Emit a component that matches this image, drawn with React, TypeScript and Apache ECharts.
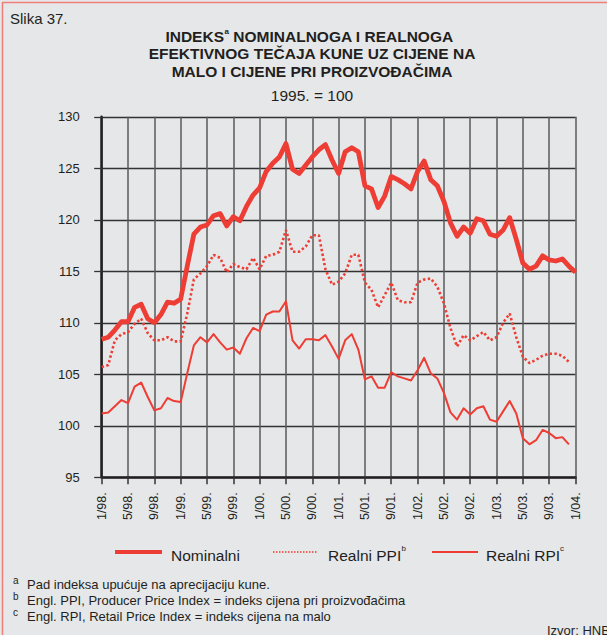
import React, { useEffect, useRef } from "react";
import * as echarts from "echarts";

const FONT = "'Liberation Sans', Arial, Helvetica, sans-serif";
const RED = "#ee3d34";

// Monthly categories 1/98. ... 1/04.
const years = ["98", "99", "00", "01", "02", "03"];
const categories: string[] = [];
years.forEach((y) => {
  for (let m = 1; m <= 12; m++) categories.push(`${m}/${y}.`);
});
categories.push("1/04.");

const nominalni = [
  108.4, 108.6, 109.3, 110.1, 110.1, 111.5, 111.8, 110.4, 110.0, 110.8, 112.0, 111.9,
  112.3, 115.5, 118.6, 119.3, 119.5, 120.4, 120.6, 119.4, 120.3, 119.9, 121.3, 122.4,
  123.1, 124.7, 125.5, 126.1, 127.4, 124.9, 124.5, 125.3, 126.1, 126.8, 127.3, 125.8,
  124.5, 126.6, 127.0, 126.6, 123.3, 123.0, 121.2, 122.3, 124.2, 123.9, 123.5, 123.0,
  124.7, 125.7, 123.9, 123.3, 121.8, 119.7, 118.4, 119.3, 118.7, 120.1, 119.9, 118.6,
  118.4, 119.0, 120.2, 118.1, 115.8, 115.2, 115.5, 116.5, 116.1, 116.0, 116.2, 115.5,
  114.9,
];

const realniPPI = [
  105.7, 105.9, 108.3, 108.9, 109.1, 109.9, 110.4, 109.0, 108.3, 108.3, 108.6, 108.2,
  108.2, 110.9, 114.2, 114.8, 115.5, 116.6, 116.3, 114.9, 115.7, 115.4, 115.2, 116.3,
  115.2, 116.5, 116.6, 116.9, 119.0, 116.9, 116.9, 117.4, 118.5, 118.5, 115.2, 113.7,
  114.0, 114.8, 116.6, 116.6, 113.9, 113.2, 111.5, 112.7, 113.9, 112.2, 112.0, 112.0,
  113.9, 114.2, 114.3, 113.5, 111.9, 109.5, 107.7, 108.8, 108.3, 108.7, 109.1, 108.3,
  108.6, 110.0, 110.9, 108.6, 106.7, 106.1, 106.4, 106.8, 107.0, 107.0, 106.8, 106.2,
];

const realniRPI = [
  101.2, 101.3, 101.9, 102.5, 102.2, 103.8, 104.2, 102.8, 101.5, 101.7, 102.7, 102.4,
  102.3, 105.1, 107.8, 108.6, 108.1, 108.9, 108.1, 107.4, 107.6, 107.0, 108.5, 109.5,
  109.2, 110.8, 111.1, 111.1, 112.1, 108.3, 107.5, 108.4, 108.4, 108.3, 108.8, 107.7,
  106.5, 108.3, 108.9, 107.4, 104.5, 104.8, 103.7, 103.7, 105.2, 104.8, 104.6, 104.4,
  105.4, 106.6, 105.1, 104.6, 103.2, 101.3, 100.6, 101.7, 101.1, 101.7, 101.9, 100.6,
  100.4, 101.4, 102.4, 101.2, 98.8, 98.2, 98.6, 99.6, 99.3, 98.8, 98.9, 98.2,
];

const titleLines = [
  "EFEKTIVNOG TEČAJA KUNE UZ CIJENE NA",
  "MALO I CIJENE PRI PROIZVOĐAČIMA",
];
const footnotes = [
  { sup: "a", text: "Pad indeksa upućuje na aprecijaciju kune." },
  { sup: "b", text: "Engl. PPI, Producer Price Index = indeks cijena pri proizvođačima" },
  { sup: "c", text: "Engl. RPI, Retail Price Index = indeks cijena na malo" },
];

function txt(x: number, y: number, text: string, size: number, opts: any = {}) {
  return {
    type: "text",
    x,
    y,
    silent: true,
    style: {
      text,
      fontSize: size,
      fontFamily: FONT,
      fontWeight: opts.bold ? "bold" : "normal",
      fill: opts.fill || "#231f20",
      textAlign: opts.align || "left",
      align: opts.align || "left",
      textVerticalAlign: "middle",
      verticalAlign: "middle",
    },
  };
}

export default function App() {
  const ref = useRef<HTMLDivElement>(null);
  useEffect(() => {
    if (!ref.current) return;
    const chart = echarts.init(ref.current, null, { renderer: "svg" });
    const graphic: any[] = [
      {
        type: "rect",
        shape: { x: 0, y: 0, width: 607, height: 635 },
        style: { fill: "#e6e7e9" },
        z: -10,
        silent: true,
      },
      {
        type: "line",
        shape: { x1: 2.5, y1: 2, x2: 2.5, y2: 635 },
        style: { stroke: "#f07f7a", lineWidth: 1.5 },
        silent: true,
      },
      {
        type: "line",
        shape: { x1: 2, y1: 2.5, x2: 607, y2: 2.5 },
        style: { stroke: "#f07f7a", lineWidth: 1.5 },
        silent: true,
      },
      txt(10, 18, "Slika 37.", 15),
      // title line 1 with superscript
      txt(224, 36, "INDEKS", 15.5, { bold: true, align: "right" }),
      txt(224.5, 31.5, "a", 8, { bold: true }),
      txt(229, 36, " NOMINALNOGA I REALNOGA", 15.5, { bold: true }),
      txt(312, 53.5, titleLines[0], 15.5, { bold: true, align: "center" }),
      txt(312, 71, titleLines[1], 15.5, { bold: true, align: "center" }),
      txt(312, 95, "1995. = 100", 15.5, { align: "center" }),
      // legend
      {
        type: "line",
        shape: { x1: 115, y1: 552, x2: 162, y2: 552 },
        style: { stroke: RED, lineWidth: 4 },
        silent: true,
      },
      txt(171, 555, "Nominalni", 15.5),
      {
        type: "line",
        shape: { x1: 273, y1: 552, x2: 318, y2: 552 },
        style: { stroke: RED, lineWidth: 1.6, lineDash: [1.5, 1.5] },
        silent: true,
      },
      txt(328, 555, "Realni PPI", 15.5),
      txt(401.5, 548.5, "b", 8),
      {
        type: "line",
        shape: { x1: 432, y1: 552, x2: 478, y2: 552 },
        style: { stroke: RED, lineWidth: 1.8 },
        silent: true,
      },
      txt(486, 555, "Realni RPI", 15.5),
      txt(560, 548.5, "c", 8),
      txt(547, 630, "Izvor: HNB", 13),
    ];
    footnotes.forEach((f, i) => {
      graphic.push(txt(13, 580 + i * 16.3, f.sup, 10));
      graphic.push(txt(27, 584 + i * 16.3, f.text, 13));
    });

    chart.setOption({
      animation: false,
      backgroundColor: "#e6e7e9",
      grid: { left: 101.7, right: 31.5, top: 116.8, bottom: 157.7, containLabel: false },
      xAxis: {
        type: "category",
        data: categories,
        boundaryGap: false,
        axisLine: { show: true, lineStyle: { color: "#231f20", width: 2.5 } },
        axisTick: { show: true, interval: 3, length: 7, lineStyle: { color: "#333", width: 1.5 } },
        axisLabel: {
          interval: 3,
          rotate: 90,
          margin: 15,
          fontSize: 12.5,
          fontFamily: FONT,
          color: "#231f20",
        },
        splitLine: { show: true, interval: 3, lineStyle: { color: "#5a5a5a", width: 1.5 } },
      },
      yAxis: {
        type: "value",
        min: 95,
        max: 130,
        interval: 5,
        axisLine: { show: true, onZero: false, lineStyle: { color: "#231f20", width: 2.5 } },
        axisTick: { show: true, length: 7.5, lineStyle: { color: "#333", width: 1.3 } },
        axisLabel: { margin: 22, fontSize: 13, fontFamily: FONT, color: "#231f20" },
        splitLine: { show: true, lineStyle: { color: "#333", width: 1.3 } },
      },
      series: [
        {
          name: "Nominalni",
          type: "line",
          data: nominalni,
          symbol: "none",
          lineStyle: { color: RED, width: 4.8, join: "round" },
          z: 5,
        },
        {
          name: "Realni PPI",
          type: "line",
          data: realniPPI,
          symbol: "none",
          lineStyle: { color: RED, width: 2.6, type: [2.4, 2.4], cap: "butt" },
          z: 4,
        },
        {
          name: "Realni RPI",
          type: "line",
          data: realniRPI,
          symbol: "none",
          lineStyle: { color: RED, width: 2, join: "round" },
          z: 3,
        },
      ],
      graphic,
    });
    return () => chart.dispose();
  }, []);
  return (
    <div
      ref={ref}
      style={{ position: "fixed", left: 0, top: 0, width: 607, height: 635 }}
    />
  );
}
